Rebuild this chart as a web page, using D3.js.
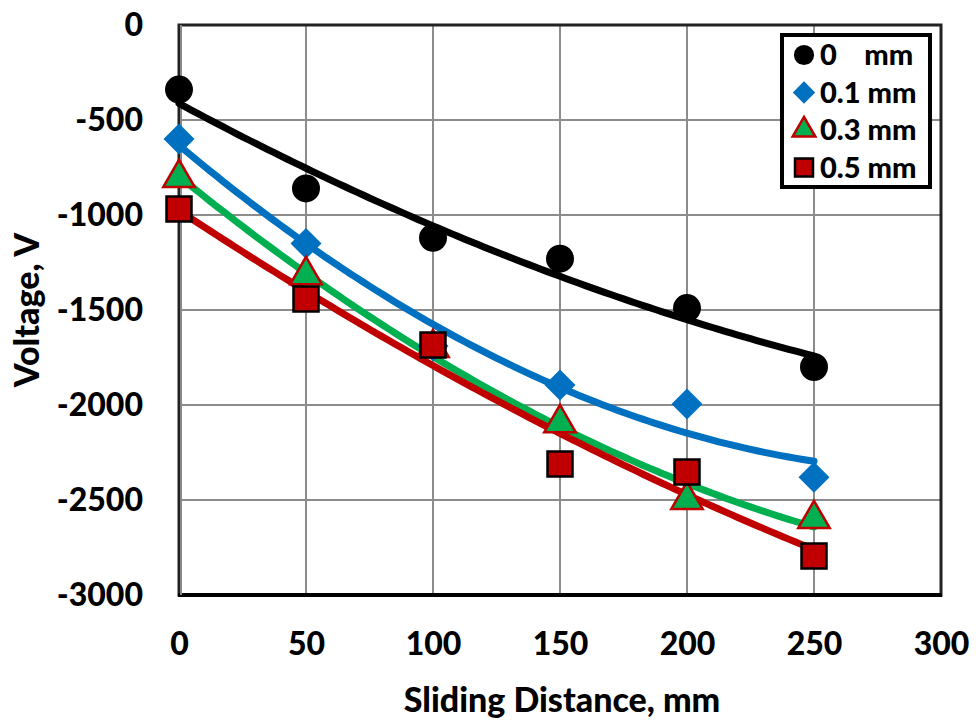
<!DOCTYPE html>
<html><head><meta charset="utf-8">
<script src="https://cdn.jsdelivr.net/npm/d3@7"></script>
<style>body{margin:0;background:#fff}</style>
</head><body>
<svg id="c" width="976" height="720"></svg>
<script>
const distances = [0, 50, 100, 150, 200, 250];
const v0mm   = [-340, -860, -1120, -1230, -1490, -1800];
const v01mm  = [-600, -1150, -1690, -1895, -1995, -2380];
const v03mm  = [-805, -1316, -1700, -2095, -2500, -2600];
const v05mm  = [-968, -1442, -1684, -2310, -2353, -2795];
const seriesNames = ["0    mm", "0.1 mm", "0.3 mm", "0.5 mm"];
const xTicks = [0, 50, 100, 150, 200, 250, 300];
const yTicks = [0, -500, -1000, -1500, -2000, -2500, -3000];

const series = [
  {name: seriesNames[0], values: v0mm,  shape: "circle",   fill: "#000000", stroke: "none",    line: "#000000"},
  {name: seriesNames[1], values: v01mm, shape: "diamond",  fill: "#0070C0", stroke: "none",    line: "#0070C0"},
  {name: seriesNames[2], values: v03mm, shape: "triangle", fill: "#00B050", stroke: "#C00000", line: "#00B050"},
  {name: seriesNames[3], values: v05mm, shape: "square",   fill: "#C00000", stroke: "#000000", line: "#C00000"}
];

const svg = d3.select("#c");
const L = 179, R = 941, T = 25, B = 595;
const x = d3.scaleLinear().domain([0, 300]).range([L, R]);
const y = d3.scaleLinear().domain([-3000, 0]).range([B, T]);
const font = "Lato, 'Open Sans', sans-serif";
const fw = 900;

// grid
svg.append("g").selectAll("line.v").data(xTicks.slice(1, -1)).join("line")
  .attr("x1", d => x(d)).attr("x2", d => x(d)).attr("y1", T).attr("y2", B)
  .attr("stroke", "#8c8c8c").attr("stroke-width", 2);
svg.append("g").selectAll("line.h").data(yTicks.slice(1, -1)).join("line")
  .attr("y1", d => y(d)).attr("y2", d => y(d)).attr("x1", L).attr("x2", R)
  .attr("stroke", "#8c8c8c").attr("stroke-width", 2);

// frame
svg.append("rect").attr("x", L).attr("y", T).attr("width", R - L).attr("height", B - T)
  .attr("fill", "none").attr("stroke", "#222").attr("stroke-width", 3);
svg.append("line").attr("x1", L - 1).attr("x2", R + 1).attr("y1", B).attr("y2", B)
  .attr("stroke", "#000").attr("stroke-width", 4);
svg.append("line").attr("x1", L + 2).attr("x2", L + 2).attr("y1", T).attr("y2", B)
  .attr("stroke", "#888").attr("stroke-width", 2);

// axes tick labels via d3 axes
const xAxis = d3.axisBottom(x).tickValues(xTicks).tickSize(0).tickPadding(30);
const gx = svg.append("g").attr("transform", `translate(0,${B})`).call(xAxis);
gx.select(".domain").remove();
gx.selectAll("text").attr("font-family", font).attr("font-weight", fw)
  .attr("font-size", 32).attr("fill", "#000").attr("dy", null).attr("y", 60);

const yAxis = d3.axisLeft(y).tickValues(yTicks).tickSize(0).tickPadding(36)
  .tickFormat(d => d === 0 ? "0" : "-" + Math.abs(d));
const gy = svg.append("g").attr("transform", `translate(${L},0)`).call(yAxis);
gy.select(".domain").remove();
gy.selectAll("text").attr("font-family", font).attr("font-weight", fw)
  .attr("font-size", 32).attr("fill", "#000").attr("x", -36);

// axis titles
svg.append("text").attr("x", 562).attr("y", 712).attr("text-anchor", "middle")
  .attr("font-family", font).attr("font-weight", fw).attr("font-size", 34)
  .text("Sliding Distance, mm");
svg.append("text").attr("transform", "translate(39,310) rotate(-90)").attr("text-anchor", "middle")
  .attr("font-family", font).attr("font-weight", fw).attr("font-size", 34)
  .text("Voltage, V");

// quadratic least-squares trendline
function quadFit(xs, ys) {
  let S = [0,0,0,0,0], T2 = [0,0,0];
  xs.forEach((xi, i) => {
    for (let k = 0; k < 5; k++) S[k] += Math.pow(xi, k);
    for (let k = 0; k < 3; k++) T2[k] += ys[i] * Math.pow(xi, k);
  });
  const A = [[S[0],S[1],S[2],T2[0]],[S[1],S[2],S[3],T2[1]],[S[2],S[3],S[4],T2[2]]];
  for (let i = 0; i < 3; i++) {
    for (let j = i + 1; j < 3; j++) {
      const f = A[j][i] / A[i][i];
      for (let k = i; k < 4; k++) A[j][k] -= f * A[i][k];
    }
  }
  const c = [0,0,0];
  for (let i = 2; i >= 0; i--) {
    let s = A[i][3];
    for (let k = i + 1; k < 3; k++) s -= A[i][k] * c[k];
    c[i] = s / A[i][i];
  }
  return xv => c[0] + c[1] * xv + c[2] * xv * xv;
}

const line = d3.line().x(d => x(d[0])).y(d => y(d[1]));
series.forEach(s => {
  const f = quadFit(distances, s.values);
  const pts = d3.range(0, 250.01, 2.5).map(xv => [xv, f(xv)]);
  svg.append("path").datum(pts).attr("d", line).attr("fill", "none")
    .attr("stroke", s.line).attr("stroke-width", 7).attr("stroke-linecap", "round");
});

const symbolOf = {
  circle: d3.symbol(d3.symbolCircle, 615),
  diamond: d3.symbol(d3.symbolSquare, 480),
  triangle: d3.symbol(d3.symbolTriangle, 430),
  square: d3.symbol(d3.symbolSquare, 625)
};
function drawMarker(g, s, cx, cy, scale) {
  return g.append("path").attr("d", symbolOf[s.shape]())
    .attr("fill", s.fill).attr("stroke", s.stroke).attr("stroke-width", 2.5 / scale)
    .attr("transform", `translate(${cx},${cy}) scale(${scale})` + (s.shape === "diamond" ? " rotate(45)" : ""));
}
series.forEach(s => {
  const g = svg.append("g");
  s.values.forEach((v, i) => drawMarker(g, s, x(distances[i]), y(v), 1));
});

// legend
const lg = svg.append("g");
lg.append("rect").attr("x", 782).attr("y", 35).attr("width", 148).attr("height", 152)
  .attr("fill", "#fff").attr("stroke", "#000").attr("stroke-width", 4);
series.forEach((s, i) => {
  const cy = 55 + i * 37.5;
  drawMarker(lg, s, 804, cy, 0.72);
  lg.append("text").attr("x", 820).attr("y", cy).attr("dy", "0.36em")
    .attr("font-family", font).attr("font-weight", fw).attr("font-size", 29)
    .attr("xml:space", "preserve").style("white-space", "pre").text(s.name);
});
</script>
</body></html>
